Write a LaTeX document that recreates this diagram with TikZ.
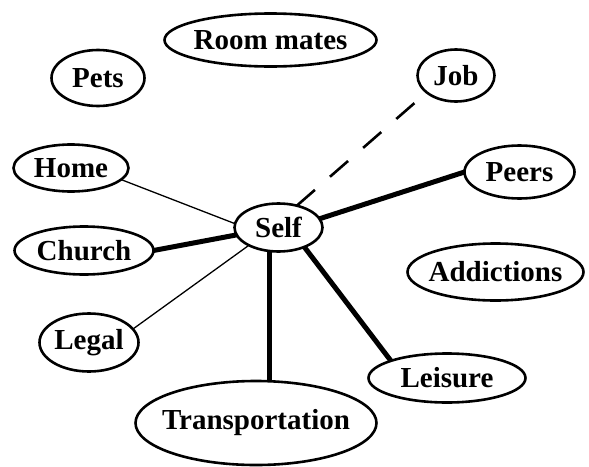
\documentclass[tikz,border=0pt]{standalone}
\usepackage{fontspec}
\setmainfont{Liberation Serif}
\usetikzlibrary{shapes.geometric}
\begin{document}
\begin{tikzpicture}[x=1pt,y=-1pt,
  bub/.style={draw, ellipse, line width=2.6pt, inner sep=0pt, outer sep=0pt,
    font=\fontsize{29}{33}\selectfont\bfseries},
  thinlink/.style={line width=1.3pt},
  thicklink/.style={line width=5pt},
  dashlink/.style={line width=2.6pt, dash pattern=on 24pt off 20pt}]
\useasboundingbox (0,0) rectangle (589,466);
\node[bub, minimum width=93pt, minimum height=56pt] (pets) at (98,78) {\makebox[0pt]{Pets}};
\node[bub, minimum width=212pt, minimum height=53pt] (room) at (270.5,40) {\makebox[0pt]{Room mates}};
\node[bub, minimum width=77pt, minimum height=52pt] (job) at (456,75.5) {\makebox[0pt]{Job}};
\node[bub, minimum width=115pt, minimum height=47pt] (home) at (71,168) {\makebox[0pt]{Home}};
\node[bub, minimum width=110pt, minimum height=53pt] (peers) at (519.5,172) {\makebox[0pt]{Peers}};
\node[bub, minimum width=88pt, minimum height=48pt] (self) at (278.5,227.5) {\makebox[0pt]{Self}};
\node[bub, minimum width=139pt, minimum height=48pt] (church) at (84,250.5) {\makebox[0pt]{Church}};
\node[bub, minimum width=176pt, minimum height=57pt] (addict) at (495.5,272) {\makebox[0pt]{Addictions}};
\node[bub, minimum width=99pt, minimum height=58pt] (legal) at (89,342.5) {\makebox[0pt]{Legal}};
\node[bub, minimum width=157pt, minimum height=49pt] (leisure) at (447,378) {\makebox[0pt]{Leisure}};
\node[bub, minimum width=241pt, minimum height=84pt] (trans) at (256,423) {\makebox[0pt]{Transportation}};
\draw[thinlink] (home.347) -- (self.175);
\draw[thicklink] (church.east) -- (self.190);
\draw[thinlink] (legal.17) -- (self.211);
\draw[thicklink] (self.248) -- (trans.north -| self.248);
\draw[thicklink] (self.323) -- (leisure.163);
\draw[thicklink] (self.12) -- (peers.west);
\draw[dashlink] (self.50) -- (job.210);
\end{tikzpicture}
\end{document}
